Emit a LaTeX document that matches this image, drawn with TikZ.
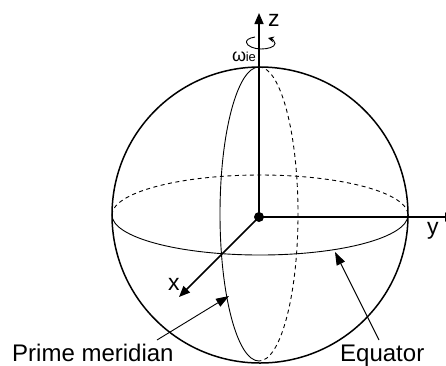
\documentclass[tikz,border=0pt]{standalone}
\usepackage{fontspec}
\setmainfont{Liberation Sans}
\usetikzlibrary{arrows.meta}
\tikzset{
  sphere/.style={line width=1.5pt},
  thin curve/.style={line width=0.9pt},
  hidden/.style={line width=0.9pt,dash pattern=on 4pt off 3.5pt},
  axis/.style={line width=1.5pt,-{Triangle[length=11pt,width=9pt]}},
  pointer/.style={line width=0.9pt,-{Triangle[length=13pt,width=9pt]}},
  lbl/.style={inner sep=0pt,font=\fontsize{24}{26}\selectfont},
  axlbl/.style={inner sep=0pt,font=\fontsize{23}{24}\selectfont}
}
\begin{document}
\begin{tikzpicture}[x=1pt,y=-1pt]
\useasboundingbox (0,0) rectangle (446,365);
\clip (0,0) rectangle (446,365);
\coordinate (c) at (260,215);
\coordinate (o) at (259,217);
\coordinate (zend) at (259,13);
\coordinate (yend) at (456,217);
\coordinate (xend) at (179,297);
% sphere
\draw[sphere] (c) circle[radius=148];
% equator
\draw[thin curve] (112,215) arc[start angle=180,end angle=0,x radius=148,y radius=40];
\draw[hidden] (112,215) arc[start angle=180,end angle=360,x radius=148,y radius=40];
% meridian
\draw[thin curve] (259,67) arc[start angle=-90,end angle=-270,x radius=39,y radius=147];
\draw[hidden] (259,67) arc[start angle=-90,end angle=90,x radius=39,y radius=147];
% axes
\draw[axis] (o) -- (zend);
\draw[axis] (o) -- (yend);
\draw[axis] (o) -- (xend);
\fill (o) circle[radius=5];
% rotation arrow
\draw[line width=0.9pt,-{Stealth[length=6pt,width=6pt]}] (255,37) .. controls (249,38) and (246,40) .. (246.5,42.5) .. controls (247,46) and (254,49) .. (261,49) .. controls (268,49) and (275,47) .. (275,43.5) .. controls (275,41) and (272,39) .. (268,38);
% labels
\node[axlbl,anchor=base west] (zl) at (268,26) {z};
\node[axlbl,anchor=base west] (yl) at (427,234) {y};
\node[axlbl,anchor=base west] (xl) at (168,290) {x};
\node[inner sep=0pt,anchor=base west] (w) at (232,61) {\fontsize{18}{20}\selectfont ω\hspace{-0.5pt}\fontsize{13}{14}\selectfont ie};
\node[lbl,anchor=base west] (pm) at (12,361) {Prime meridian};
\node[lbl,anchor=base west] (eq) at (340,361) {Equator};
\coordinate (pms) at (157,340);
\coordinate (pme) at (229,296);
\coordinate (eqs) at (379,340);
\coordinate (eqe) at (335,252);
\draw[pointer] (pms) -- (pme);
\draw[pointer] (eqs) -- (eqe);
\end{tikzpicture}
\end{document}
